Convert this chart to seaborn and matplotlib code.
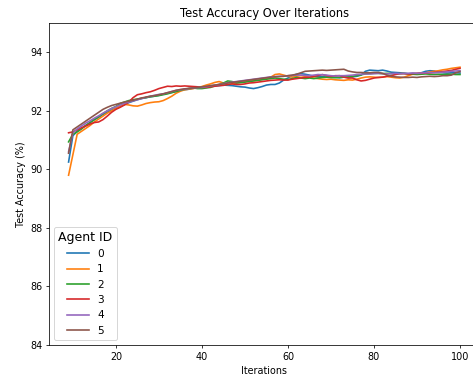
import numpy as np
import pandas as pd
import matplotlib
matplotlib.use("Agg")
import matplotlib.pyplot as plt
import seaborn as sns

iterations = list(range(9, 101))

agent_0 = [90.25, 91.15, 91.3, 91.4, 91.5, 91.6, 91.7, 91.78, 91.88, 91.95, 92.02, 92.08, 92.15, 92.22, 92.28, 92.33,
           92.38, 92.42, 92.45, 92.48, 92.5, 92.53, 92.57, 92.6, 92.63, 92.66, 92.7, 92.72, 92.74, 92.77, 92.78, 92.8,
           92.82, 92.84, 92.85, 92.86, 92.88, 92.87, 92.86, 92.84, 92.82, 92.81, 92.78, 92.76, 92.79, 92.83, 92.88, 92.9,
           92.9, 92.95, 93.05, 93.12, 93.2, 93.25, 93.27, 93.25, 93.22, 93.18, 93.16, 93.17, 93.15, 93.14, 93.15, 93.13,
           93.15, 93.14, 93.16, 93.18, 93.22, 93.35, 93.39, 93.38, 93.37, 93.39, 93.36, 93.32, 93.31, 93.3, 93.28, 93.27,
           93.28, 93.27, 93.3, 93.35, 93.37, 93.36, 93.32, 93.3, 93.29, 93.3, 93.3, 93.29]
agent_1 = [89.8, 90.5, 91.2, 91.3, 91.4, 91.5, 91.62, 91.72, 91.82, 91.92, 92.0, 92.08, 92.15, 92.22, 92.2, 92.17,
           92.16, 92.2, 92.25, 92.28, 92.3, 92.31, 92.35, 92.42, 92.5, 92.6, 92.67, 92.72, 92.74, 92.76, 92.8, 92.83,
           92.88, 92.92, 92.97, 93.0, 92.95, 92.9, 92.92, 92.95, 92.98, 93.0, 93.02, 93.03, 93.05, 93.08, 93.1, 93.15,
           93.24, 93.26, 93.22, 93.18, 93.15, 93.18, 93.2, 93.18, 93.15, 93.12, 93.1, 93.08, 93.07, 93.08, 93.06, 93.05,
           93.04, 93.06, 93.05, 93.08, 93.12, 93.15, 93.16, 93.15, 93.14, 93.15, 93.17, 93.15, 93.13, 93.12, 93.15, 93.2,
           93.25, 93.27, 93.28, 93.3, 93.33, 93.35, 93.37, 93.4, 93.42, 93.45, 93.47, 93.49]
agent_2 = [90.94, 91.2, 91.28, 91.38, 91.5, 91.6, 91.7, 91.8, 91.9, 92.0, 92.08, 92.15, 92.25, 92.3, 92.35, 92.38,
           92.4, 92.43, 92.45, 92.48, 92.5, 92.52, 92.55, 92.58, 92.62, 92.66, 92.7, 92.74, 92.76, 92.78, 92.76, 92.76,
           92.78, 92.8, 92.85, 92.9, 92.95, 93.02, 93.0, 92.95, 92.96, 92.98, 93.0, 93.02, 93.04, 93.06, 93.08, 93.1,
           93.12, 93.1, 93.08, 93.07, 93.1, 93.14, 93.12, 93.1, 93.12, 93.1, 93.12, 93.14, 93.15, 93.14, 93.13, 93.14,
           93.15, 93.16, 93.18, 93.2, 93.23, 93.26, 93.27, 93.28, 93.28, 93.27, 93.28, 93.27, 93.26, 93.27, 93.28, 93.26,
           93.25, 93.24, 93.25, 93.26, 93.25, 93.24, 93.25, 93.24, 93.25, 93.25, 93.24, 93.24]
agent_3 = [91.25, 91.28, 91.35, 91.42, 91.48, 91.55, 91.6, 91.62, 91.7, 91.82, 91.95, 92.05, 92.12, 92.2, 92.3, 92.45,
           92.55, 92.58, 92.62, 92.65, 92.7, 92.76, 92.8, 92.84, 92.83, 92.85, 92.84, 92.85, 92.84, 92.83, 92.82, 92.8,
           92.8, 92.82, 92.84, 92.86, 92.87, 92.9, 92.92, 92.9, 92.9, 92.92, 92.95, 92.96, 92.98, 93.0, 93.02, 93.04,
           93.05, 93.06, 93.05, 93.05, 93.08, 93.1, 93.12, 93.14, 93.15, 93.18, 93.2, 93.24, 93.2, 93.18, 93.2, 93.2,
           93.15, 93.12, 93.12, 93.06, 93.02, 93.04, 93.08, 93.12, 93.14, 93.15, 93.18, 93.2, 93.24, 93.27, 93.27, 93.26,
           93.27, 93.28, 93.28, 93.29, 93.3, 93.31, 93.32, 93.34, 93.36, 93.38, 93.42, 93.45]
agent_4 = [90.6, 91.25, 91.38, 91.48, 91.58, 91.66, 91.75, 91.83, 91.92, 92.0, 92.08, 92.14, 92.2, 92.26, 92.3, 92.34,
           92.38, 92.42, 92.46, 92.5, 92.53, 92.56, 92.58, 92.62, 92.66, 92.7, 92.72, 92.74, 92.76, 92.78, 92.79, 92.8,
           92.82, 92.85, 92.88, 92.9, 92.93, 92.96, 92.98, 93.0, 93.02, 93.04, 93.06, 93.08, 93.1, 93.12, 93.14, 93.16,
           93.17, 93.18, 93.18, 93.2, 93.21, 93.22, 93.22, 93.21, 93.2, 93.22, 93.24, 93.23, 93.22, 93.2, 93.19, 93.2,
           93.2, 93.21, 93.22, 93.24, 93.25, 93.26, 93.26, 93.27, 93.28, 93.27, 93.26, 93.27, 93.28, 93.27, 93.28, 93.28,
           93.29, 93.28, 93.29, 93.3, 93.31, 93.3, 93.31, 93.32, 93.33, 93.35, 93.36, 93.37]
agent_5 = [90.55, 91.35, 91.45, 91.55, 91.65, 91.75, 91.85, 91.95, 92.05, 92.12, 92.18, 92.22, 92.26, 92.3, 92.33, 92.36,
           92.4, 92.44, 92.47, 92.5, 92.52, 92.55, 92.58, 92.62, 92.66, 92.7, 92.73, 92.75, 92.77, 92.78, 92.8, 92.82,
           92.84, 92.86, 92.88, 92.9, 92.92, 92.95, 92.97, 92.99, 93.01, 93.03, 93.05, 93.07, 93.09, 93.11, 93.13, 93.15,
           93.16, 93.17, 93.18, 93.2, 93.22, 93.25, 93.3, 93.35, 93.36, 93.37, 93.38, 93.39, 93.38, 93.39, 93.4, 93.41,
           93.42, 93.36, 93.33, 93.31, 93.31, 93.3, 93.3, 93.31, 93.31, 93.28, 93.22, 93.18, 93.16, 93.15, 93.14, 93.14,
           93.15, 93.14, 93.16, 93.17, 93.18, 93.17, 93.18, 93.2, 93.2, 93.22, 93.3, 93.34]

agent_ids = ["0", "1", "2", "3", "4", "5"]
series = [agent_0, agent_1, agent_2, agent_3, agent_4, agent_5]

rows = []
for aid, vals in zip(agent_ids, series):
    for it, v in zip(iterations, vals):
        rows.append({"Iteration": it, "Accuracy": v, "Agent ID": aid})
df = pd.DataFrame(rows)

dpi = 69
fig = plt.figure(figsize=(473 / dpi, 376 / dpi), dpi=dpi)
ax = fig.add_axes([49 / 473, 31 / 376, 430.6 / 473, 322 / 376])

palette = sns.color_palette("tab10", 6)
sns.lineplot(data=df, x="Iteration", y="Accuracy", hue="Agent ID",
             hue_order=agent_ids, palette=palette, ax=ax, linewidth=1.7)

ax.set_ylim(84, 95)
ax.set_yticks([84, 86, 88, 90, 92, 94])
ax.set_xticks([20, 40, 60, 80, 100])
ax.set_title("Test Accuracy Over Iterations")
ax.set_xlabel("Iterations")
ax.set_ylabel("Test Accuracy (%)")
ax.legend(title="Agent ID", loc="lower left", title_fontsize=13, fontsize=11)

fig.savefig("out.png", dpi=dpi)
